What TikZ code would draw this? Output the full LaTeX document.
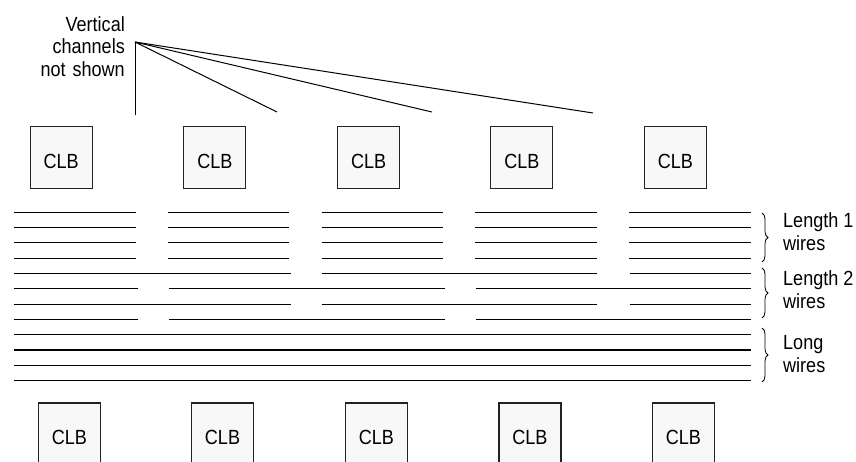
\documentclass[tikz,border=0pt]{standalone}
\usepackage{fontspec}
\setmainfont{Liberation Sans}[FakeStretch=0.88]
\usetikzlibrary{decorations.pathreplacing}
\definecolor{boxfill}{HTML}{F8F8F8}
\definecolor{boxedge}{HTML}{222222}
\tikzset{
  clb/.style={draw=boxedge, fill=boxfill, line width=1.2pt, minimum width=62pt,
    minimum height=62pt, inner sep=0pt, text height=21.7pt, text depth=0pt,
    font=\fontsize{20.5}{23}\selectfont},
  lbl/.style={inner sep=0pt, font=\fontsize{20.5}{22.5}\selectfont},
  wire/.style={line width=1.1pt, black},
  pointer/.style={line width=1pt, black},
  bracket/.style={decorate, decoration={brace, amplitude=6pt}, line width=0.8pt, black}
}
\begin{document}
\begin{tikzpicture}[x=1pt, y=-1pt]
\useasboundingbox (0,0) rectangle (856,461);
\begin{scope}
\clip (0,0) rectangle (856,461);
% top CLBs
\foreach \i/\cx in {1/61.2, 2/214.8, 3/368.6, 4/521.8, 5/675.3}
  \node[clb] (t\i) at (\cx,157.5) {CLB};
% bottom CLBs
\foreach \i/\cx in {1/69.3, 2/222.5, 3/376.3, 4/529.9, 5/683.3}
  \node[clb] (b\i) at (\cx,433.9) {CLB};
\end{scope}

% label for vertical channels
\node[lbl, align=right, anchor=base east] (vc) at (125,76) {Vertical\\channels\\not\hspace{2pt} shown};
\coordinate (src) at (135,42);
\coordinate (e1) at (135,115);
\coordinate (e2) at (277,112);
\coordinate (e3) at (432,112);
\coordinate (e4) at (593,113);
\foreach \e in {e1,e2,e3,e4} \draw[pointer] (src) -- (\e);

% length 1 wires: rows 0-3
\foreach \r in {0,1,2,3}{
  \foreach \g in {0,1,2,3,4}{
    \draw[wire] ({14+153.75*\g},{212.3+15.3*\r}) -- ({135.5+153.75*\g},{212.3+15.3*\r});
  }
}
% length 2 wires
\foreach \r in {4,6}{
  \draw[wire] (14,{212.3+15.3*\r}) -- (290.5,{212.3+15.3*\r});
  \draw[wire] (321.5,{212.3+15.3*\r}) -- (597,{212.3+15.3*\r});
  \draw[wire] (629.5,{212.3+15.3*\r}) -- (751,{212.3+15.3*\r});
}
\foreach \r in {5,7}{
  \draw[wire] (14,{212.3+15.3*\r}) -- (137.5,{212.3+15.3*\r});
  \draw[wire] (168.5,{212.3+15.3*\r}) -- (444.5,{212.3+15.3*\r});
  \draw[wire] (475.5,{212.3+15.3*\r}) -- (751,{212.3+15.3*\r});
}
% long wires
\foreach \r in {8,9,10,11}
  \draw[wire] (14,{212.3+15.3*\r}) -- (751,{212.3+15.3*\r});

% braces
\coordinate (br1a) at (762,213);
\coordinate (br1b) at (762,262);
\coordinate (br2a) at (762,268);
\coordinate (br2b) at (762,318);
\coordinate (br3a) at (762,328);
\coordinate (br3b) at (762,382);
\draw[bracket] (br1a) -- (br1b);
\draw[bracket] (br2a) -- (br2b);
\draw[bracket] (br3a) -- (br3b);

\node[lbl, align=left, anchor=base west] (l1) at (783,250) {Length 1\\wires};
\node[lbl, align=left, anchor=base west] (l2) at (783,308) {Length 2\\wires};
\node[lbl, align=left, anchor=base west] (l3) at (783,372) {Long\\wires};
\end{tikzpicture}
\end{document}
